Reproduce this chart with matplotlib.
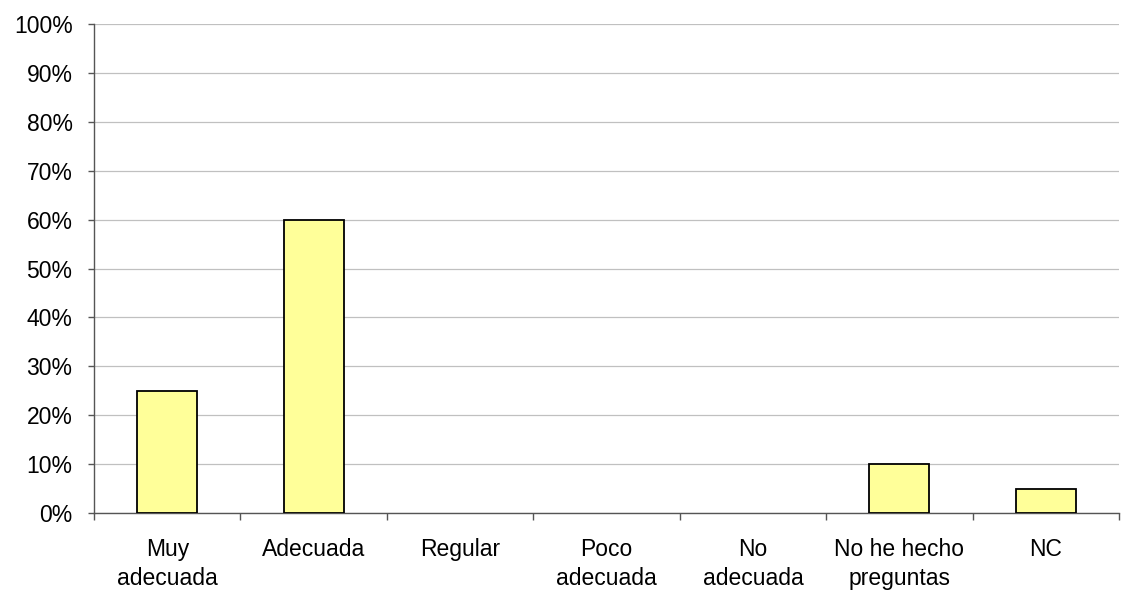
import numpy as np
import matplotlib.pyplot as plt
from matplotlib.ticker import FixedLocator, PercentFormatter

plt.rcParams['font.family'] = ['Liberation Sans', 'DejaVu Sans']

# Data
categories = ["Muy\nadecuada", "Adecuada", "Regular", "Poco\nadecuada",
              "No\nadecuada", "No he hecho\npreguntas", "NC"]
values = [25, 60, 0, 0, 0, 10, 5]

fig = plt.figure(figsize=(11.21, 5.93), dpi=100)
ax = fig.add_axes([0.0839, 0.1349, 0.9143, 0.8246])

x = np.arange(len(categories))
vals = np.array(values)
shown = vals > 0  # empty categories draw nothing
ax.bar(x[shown], vals[shown], width=0.41, color='#FFFF99', edgecolor='black',
       linewidth=1.3, zorder=3)

ax.set_xlim(-0.5, len(categories) - 0.5)
ax.set_ylim(0, 100)
ax.set_yticks(np.arange(0, 101, 10))
ax.yaxis.set_major_formatter(PercentFormatter(decimals=0))
ax.grid(axis='y', color='#c0c0c0', linewidth=0.9, zorder=0)

# category labels centred, ticks on the category boundaries
ax.set_xticks(x)
ax.set_xticklabels(categories, fontsize=16.5, linespacing=1.32)
ax.tick_params(axis='x', length=0, pad=18)
ax.xaxis.set_minor_locator(FixedLocator(np.arange(-0.5, len(categories), 1)))
ax.tick_params(axis='x', which='minor', length=5, width=1, color='#555555')
ax.tick_params(axis='y', length=4.5, width=1, color='#555555', labelsize=16.5, pad=11)

for s in ['top', 'right']:
    ax.spines[s].set_visible(False)
for s in ['left', 'bottom']:
    ax.spines[s].set_color('#555555')
    ax.spines[s].set_linewidth(1)

fig.savefig("out.png", dpi=100)
